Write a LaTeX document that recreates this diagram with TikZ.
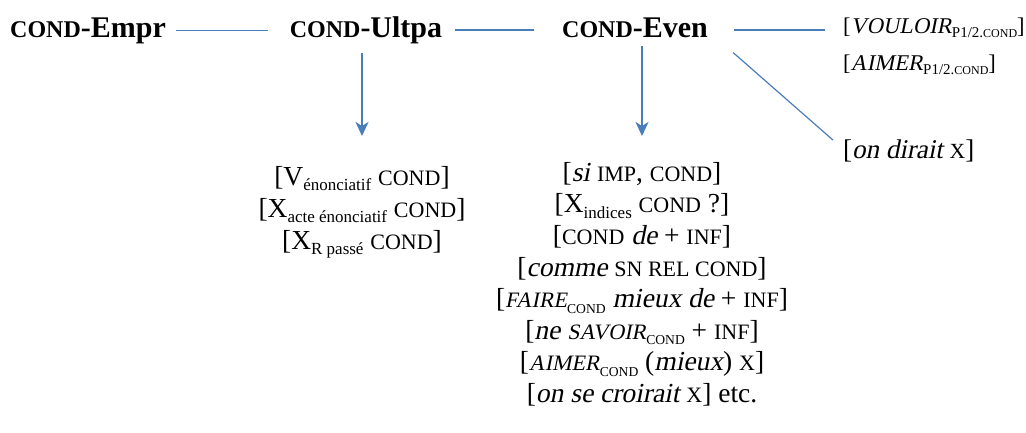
\documentclass[tikz,border=0pt]{standalone}
\usepackage{fontspec}
\setmainfont{Liberation Serif}[BoldFont = Liberation Serif Bold]
\newfontfamily\itf{Liberation Serif}[FakeSlant=0.2]
\usepackage{graphicx}
\usetikzlibrary{arrows.meta}
\definecolor{conn}{RGB}{74,126,187}
\newcommand\ti[1]{{\itf #1}}
\newcommand\fsc[1]{\scalebox{0.8}{#1}}
\newcommand\sbs[1]{\raisebox{-0.2em}{\fontsize{17}{17}\selectfont #1}}
\newcommand\sbr[1]{\raisebox{-0.2em}{\fontsize{15}{15}\selectfont #1}}
\tikzset{
  hd/.style={font=\fontsize{30}{34}\bfseries\selectfont, inner sep=0pt, anchor=base},
  lbl/.style={font=\fontsize{22.5}{26}\selectfont, inner sep=0pt, anchor=base west},
  lst/.style={font=\fontsize{27.5}{31.6}\selectfont, inner sep=0pt, align=center, anchor=north},
  ln/.style={draw=conn, line width=1.5pt},
  dg/.style={draw=conn, line width=1.2pt},
  arr/.style={draw=conn, line width=1.8pt, -{Stealth[length=14pt,width=13pt,inset=4pt]}}
}
\begin{document}
\begin{tikzpicture}[x=1pt,y=-1pt]
\useasboundingbox (0,0) rectangle (1026,432);
\node[hd] (empr) at (88,37) {\fsc{COND}-Empr};
\node[hd] (ultpa) at (366,37) {\fsc{COND}-Ultpa};
\node[hd] (even) at (635,37) {\fsc{COND}-Even};
\node[lbl] (vouloir) at (843,33) {[\ti{VOULOIR}\sbr{P1/2.\fsc{COND}}]};
\node[lbl] (aimer) at (843,70) {[\ti{AIMER}\sbr{P1/2.\fsc{COND}}]};
\node[lbl,font=\fontsize{27}{31}\selectfont] (dirait) at (843,158) {[\ti{on dirait} \fsc{X}]};
\node[lst,font=\fontsize{27.5}{32}\selectfont] (leftlist) at (362,166) {%
{[}V\sbs{énonciatif} \fsc{COND}]\\
{[}X\sbs{acte énonciatif} \fsc{COND}]\\
{[}X\sbs{R passé} \fsc{COND}]};
\node[lst] (evenlist) at (642,162) {%
{[}\ti{si} \fsc{IMP}, \fsc{COND}]\\
{[}X\sbs{indices} \fsc{COND} ?]\\
{[}\fsc{COND} \ti{de} + \fsc{INF}]\\
{[}\ti{comme} \fsc{SN REL COND}]\\
{[}\ti{\fsc{FAIRE}}\sbs{\fsc{COND}} \ti{mieux de} + \fsc{INF}]\\
{[}\ti{ne \fsc{SAVOIR}}\sbs{\fsc{COND}} + \fsc{INF}]\\
{[}\ti{\fsc{AIMER}}\sbs{\fsc{COND}} (\ti{mieux}) \fsc{X}]\\
{[}\ti{on se croirait} \fsc{X}] etc.};
\draw[ln, shorten <=10pt, shorten >=22pt] (empr.east) -- (empr.east -| ultpa.west);
\draw[ln, shorten <=13pt, shorten >=28pt] (ultpa.east) -- (ultpa.east -| even.west);
\draw[ln, shorten <=26pt, shorten >=18pt] (even.east |- ultpa.east) -- (ultpa.east -| vouloir.west);
\draw[dg] ([xshift=25pt,yshift=-15pt]even.south east) -- ([xshift=-10pt,yshift=-1pt]dirait.north west);
\draw[arr] ([yshift=-9pt]ultpa.south -| leftlist.north) -- ([yshift=30pt]leftlist.north);
\draw[arr] ([yshift=-9pt]even.south -| evenlist.north) -- ([yshift=26pt]evenlist.north);
\end{tikzpicture}
\end{document}
